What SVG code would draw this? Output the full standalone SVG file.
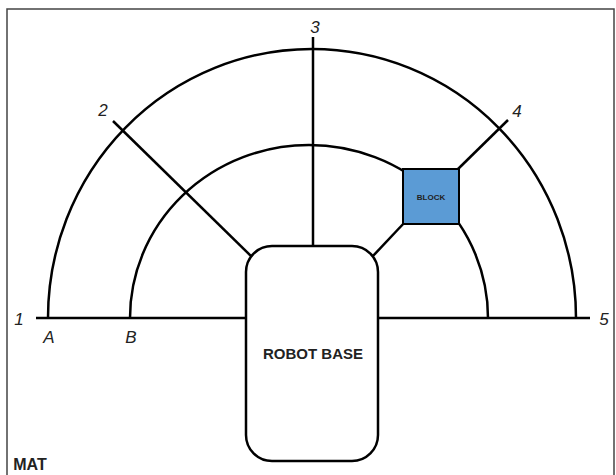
<svg xmlns="http://www.w3.org/2000/svg" width="616" height="475" viewBox="0 0 616 475">
  <style>
    .frame { fill: none; stroke: #444; stroke-width: 1.5; }
    .arc { fill: none; stroke: #000; stroke-width: 2.5; }
    .ln { stroke: #000; stroke-width: 2.5; stroke-linecap: butt; }
    .lbl { font-family: "Liberation Sans", Arial, sans-serif; font-style: italic; font-size: 17px; fill: #222; text-anchor: middle; }
    .bold { font-family: "Liberation Sans", Arial, sans-serif; font-weight: bold; fill: #222; text-anchor: middle; }
  </style>

  <rect width="616" height="475" fill="#fff"/>
  <rect class="frame" x="7" y="9" width="607" height="475"/>

  <!-- distance arcs A (outer) and B (inner) -->
  <g id="arcs">
    <path class="arc" d="M 48 318 A 264 269 0 0 1 576 318"/>
    <path class="arc" d="M 130 318 A 179 173 0 0 1 488 318"/>
  </g>

  <!-- position rays 1..5 -->
  <g id="connectors">
    <line class="ln" x1="36" y1="318" x2="590" y2="318"/>
    <line class="ln" x1="113" y1="121" x2="252" y2="257"/>
    <line class="ln" x1="313" y1="37" x2="313" y2="250"/>
    <line class="ln" x1="508" y1="120" x2="457" y2="170"/>
    <line class="ln" x1="405" y1="222" x2="372" y2="257"/>
  </g>

  <g id="robot-base">
    <rect x="246" y="246" width="132" height="215" rx="26" ry="26" fill="#fff" stroke="#000" stroke-width="2.5"/>
    <text class="bold" x="313" y="359" font-size="15">ROBOT BASE</text>
  </g>

  <g id="block">
    <rect x="403" y="169" width="56" height="55" fill="#5b9bd5" stroke="#000" stroke-width="2"/>
    <text class="bold" x="431" y="200" font-size="8">BLOCK</text>
  </g>

  <g id="labels">
    <text class="lbl" x="19" y="325">1</text>
    <text class="lbl" x="103" y="116">2</text>
    <text class="lbl" x="315" y="33">3</text>
    <text class="lbl" x="517" y="117">4</text>
    <text class="lbl" x="604" y="325">5</text>
    <text class="lbl" x="49" y="343">A</text>
    <text class="lbl" x="131" y="343">B</text>
    <text class="bold" x="30" y="470" font-size="16">MAT</text>
  </g>
</svg>
